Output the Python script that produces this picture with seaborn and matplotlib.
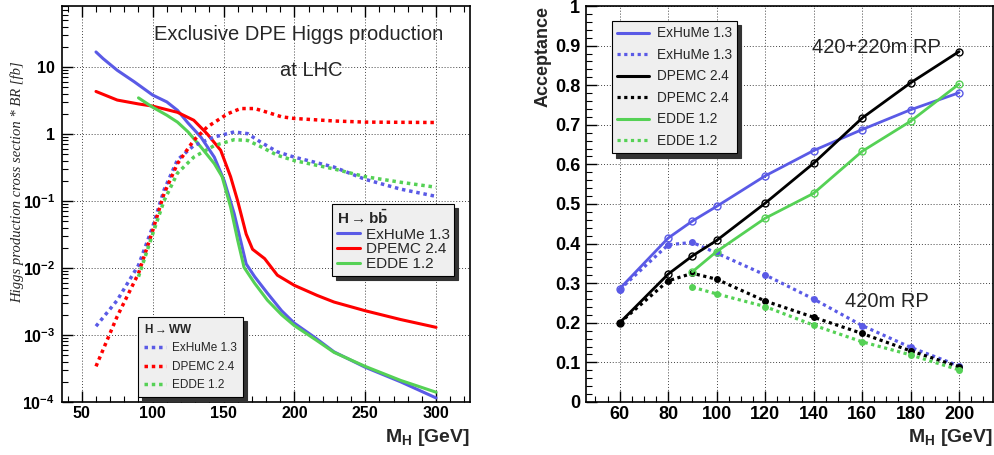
import numpy as np
import pandas as pd
import matplotlib
matplotlib.use('Agg')
import matplotlib.pyplot as plt
import seaborn as sns
from matplotlib.lines import Line2D
from matplotlib.ticker import MultipleLocator, LogLocator, NullFormatter

# Colours (ROOT-like)
BLUE = '#5a5ae6'
RED = '#ff0000'
GREEN = '#55d155'
BLACK = '#000000'

# ---- Left panel: cross section * BR [fb] vs M_H ----
exhume_bb_x = [60, 65, 75, 87, 100, 110, 117.5, 125, 134, 143.5, 150.5, 157.5, 162, 166, 172, 181, 191, 200, 215, 228, 250, 275, 300]
exhume_bb_y = [16.7, 13.3, 8.9, 6.0, 3.8, 3.0, 2.25, 1.45, 0.9, 0.45, 0.2, 0.065, 0.026, 0.0115, 0.0074, 0.0042, 0.0023, 0.0015, 0.0009, 0.00056, 0.00033, 0.0002, 0.000115]

dpemc_bb_x = [60, 75, 90, 100, 117.5, 129, 138.5, 148, 155, 160, 166, 170.5, 179, 188, 200, 216, 228, 250, 275, 300]
dpemc_bb_y = [4.3, 3.2, 2.8, 2.6, 2.1, 1.6, 1.0, 0.57, 0.23, 0.1, 0.032, 0.019, 0.0138, 0.0078, 0.0055, 0.0039, 0.0031, 0.0023, 0.0017, 0.0013]

edde_bb_x = [90, 100, 110, 117.5, 125, 134, 143.5, 149, 155, 160, 164.5, 172, 181, 191, 200, 215, 228, 250, 275, 300]
edde_bb_y = [3.45, 2.5, 1.9, 1.5, 1.07, 0.64, 0.36, 0.23, 0.081, 0.026, 0.0102, 0.0059, 0.0033, 0.002, 0.00138, 0.00085, 0.00055, 0.00034, 0.00021, 0.00014]

exhume_ww_x = [60, 75, 90, 100, 108, 117.5, 129, 143.5, 157.5, 167, 176, 188, 200, 228, 250, 275, 300]
exhume_ww_y = [0.00135, 0.0033, 0.011, 0.041, 0.145, 0.41, 0.67, 0.9, 1.07, 1.01, 0.76, 0.54, 0.45, 0.32, 0.21, 0.15, 0.117]

dpemc_ww_x = [60, 75, 90, 100, 108, 117.5, 129, 138.5, 153, 162, 172, 181, 191, 200, 228, 250, 300]
dpemc_ww_y = [0.00034, 0.0019, 0.0083, 0.036, 0.128, 0.36, 0.8, 1.27, 2.0, 2.39, 2.39, 2.1, 1.8, 1.7, 1.56, 1.5, 1.48]

edde_ww_x = [90, 100, 108, 117.5, 129, 143.5, 157.5, 167, 176, 188, 200, 228, 250, 275, 300]
edde_ww_y = [0.0074, 0.032, 0.1, 0.26, 0.45, 0.67, 0.82, 0.8, 0.65, 0.48, 0.40, 0.30, 0.23, 0.19, 0.16]

# ---- Right panel: acceptance vs M_H ----
mass = [60, 80, 90, 100, 120, 140, 160, 180, 200]
mass_edde = [90, 100, 120, 140, 160, 180, 200]
acc_exhume_420_220 = [0.286, 0.414, 0.457, 0.494, 0.571, 0.635, 0.688, 0.738, 0.781]
acc_exhume_420 = [0.284, 0.397, 0.403, 0.376, 0.321, 0.260, 0.193, 0.138, 0.091]
acc_dpemc_420_220 = [0.200, 0.323, 0.369, 0.408, 0.502, 0.603, 0.717, 0.806, 0.885]
acc_dpemc_420 = [0.200, 0.306, 0.325, 0.310, 0.255, 0.214, 0.173, 0.129, 0.089]
acc_edde_420_220 = [0.329, 0.380, 0.464, 0.527, 0.633, 0.709, 0.803]
acc_edde_420 = [0.290, 0.273, 0.241, 0.194, 0.152, 0.119, 0.081]

legend_names = ['ExHuMe 1.3', 'DPEMC 2.4', 'EDDE 1.2']

sns.set_theme(style='white')
plt.rcParams['font.family'] = ['Liberation Sans', 'DejaVu Sans']
plt.rcParams['mathtext.fontset'] = 'custom'
plt.rcParams['mathtext.rm'] = 'Liberation Sans'
plt.rcParams['mathtext.bf'] = 'Liberation Sans:bold'
plt.rcParams['mathtext.it'] = 'Liberation Sans:italic'
plt.rcParams['axes.edgecolor'] = 'black'
plt.rcParams['axes.linewidth'] = 1.2

DOT = (0, (1, 1.1))

fig = plt.figure(figsize=(9.95, 4.55), dpi=100)
axL = fig.add_axes([0.0623, 0.1165, 0.4101, 0.8703])
axR = fig.add_axes([0.5887, 0.1165, 0.4093, 0.8703])


def draw(ax, x, y, color, dotted=False, lw=2.2, **kw):
    df = pd.DataFrame({'x': x, 'y': y})
    sns.lineplot(data=df, x='x', y='y', ax=ax, color=color, lw=lw,
                 linestyle=DOT if dotted else '-', sort=False,
                 estimator=None, legend=False, **kw)


def root_ticks(ax, top=False):
    ax.tick_params(which='both', direction='in', top=top, right=False,
                   bottom=True, left=True, colors='black')
    ax.tick_params(which='major', length=8, width=1.0)
    ax.tick_params(which='minor', length=4, width=0.8)
    ax.grid(True, which='major', color='#444444', lw=0.7, ls=(0, (1, 2)))
    ax.set_axisbelow(True)


# ---------------- left panel ----------------
axL.set_yscale('log')
draw(axL, exhume_bb_x, exhume_bb_y, BLUE)
draw(axL, dpemc_bb_x, dpemc_bb_y, RED)
draw(axL, edde_bb_x, edde_bb_y, GREEN)
draw(axL, exhume_ww_x, exhume_ww_y, BLUE, dotted=True, lw=2.5)
draw(axL, dpemc_ww_x, dpemc_ww_y, RED, dotted=True, lw=2.5)
draw(axL, edde_ww_x, edde_ww_y, GREEN, dotted=True, lw=2.5)

axL.set_xlim(36, 324)
axL.set_ylim(1e-4, 81)
axL.xaxis.set_major_locator(MultipleLocator(50))
axL.xaxis.set_minor_locator(MultipleLocator(10))
ydec = [1e-4, 1e-3, 1e-2, 1e-1, 1, 10]
ylab = [r'$\mathbf{10^{-4}}$', r'$\mathbf{10^{-3}}$', r'$\mathbf{10^{-2}}$',
        r'$\mathbf{10^{-1}}$', '1', '10']
axL.set_yticks(ydec, ylab, fontsize=11.5, fontweight='bold')
axL.yaxis.set_minor_locator(LogLocator(base=10, subs=np.arange(2, 10), numticks=20))
axL.yaxis.set_minor_formatter(NullFormatter())
axL.set_xticks([50, 100, 150, 200, 250, 300],
               ['50', '100', '150', '200', '250', '300'], fontsize=11.5, fontweight='bold')
root_ticks(axL, top=True)
axL.tick_params(axis='y', pad=5)
axL.tick_params(axis='x', pad=3)

axL.set_xlabel(r'$\mathbf{M_H}$ [GeV]', fontsize=14, fontweight='bold', loc='right')
axL.xaxis.set_label_coords(1.0, -0.063)
axL.set_ylabel('Higgs production cross section * BR [fb]', fontsize=10.5,
               family='Liberation Serif', style='italic', fontweight='normal')
axL.yaxis.set_label_coords(-0.093, 0.555)

axL.text(0.581, 0.929, 'Exclusive DPE Higgs production', transform=axL.transAxes,
         ha='center', va='center', fontsize=14.5)
axL.text(0.61, 0.838, 'at LHC', transform=axL.transAxes,
         ha='center', va='center', fontsize=14.5)

shadow = {'ox': 3, 'oy': -3, 'color': '#333333', 'alpha': 1.0}
colors = [BLUE, RED, GREEN]
h_bb = [Line2D([], [], color=c, lw=2.2) for c in colors]
leg_bb = axL.legend(h_bb, legend_names, loc='upper left', bbox_to_anchor=(0.662, 0.5),
                    borderaxespad=0,
                    title=r'$\mathbf{H \rightarrow b\bar{b}}$', title_fontsize=11,
                    fontsize=11, handlelength=1.5, handletextpad=0.4, labelspacing=0.05,
                    borderpad=0.3, alignment='left', fancybox=False, framealpha=1,
                    facecolor='#efefef', edgecolor='black', shadow=shadow)
leg_bb.get_frame().set_linewidth(0.8)
axL.add_artist(leg_bb)

h_ww = [Line2D([], [], color=c, lw=2.5, ls=DOT) for c in colors]
leg_ww = axL.legend(h_ww, legend_names, loc='upper left', bbox_to_anchor=(0.186, 0.215),
                    borderaxespad=0,
                    title=r'$\mathbf{H \rightarrow WW}$', title_fontsize=8.5,
                    fontsize=8.5, handlelength=1.9, handletextpad=0.5, labelspacing=0.55,
                    borderpad=0.5, alignment='left', fancybox=False, framealpha=1,
                    facecolor='#efefef', edgecolor='black', shadow=shadow)
leg_ww.get_frame().set_linewidth(0.8)

# ---------------- right panel ----------------
mk_open = dict(marker='o', markersize=5, markerfacecolor='none', markeredgewidth=1.0)
mk_full = dict(marker='o', markersize=5, markeredgewidth=0)
draw(axR, mass, acc_exhume_420_220, BLUE, lw=2.0, markeredgecolor=BLUE, **mk_open)
draw(axR, mass, acc_exhume_420, BLUE, dotted=True, lw=2.3, **mk_full)
draw(axR, mass, acc_dpemc_420_220, BLACK, lw=2.0, markeredgecolor=BLACK, **mk_open)
draw(axR, mass, acc_dpemc_420, BLACK, dotted=True, lw=2.3, **mk_full)
draw(axR, mass_edde, acc_edde_420_220, GREEN, lw=2.0, markeredgecolor=GREEN, **mk_open)
draw(axR, mass_edde, acc_edde_420, GREEN, dotted=True, lw=2.3, **mk_full)

axR.set_xlim(46, 214)
axR.set_ylim(0, 1)
xt = [60, 80, 100, 120, 140, 160, 180, 200]
axR.set_xticks(xt, [str(v) for v in xt], fontsize=13, fontweight='bold')
yt = [0, 0.1, 0.2, 0.3, 0.4, 0.5, 0.6, 0.7, 0.8, 0.9, 1]
axR.set_yticks(yt, ['0', '0.1', '0.2', '0.3', '0.4', '0.5', '0.6', '0.7', '0.8', '0.9', '1'],
               fontsize=13, fontweight='bold')
axR.xaxis.set_minor_locator(MultipleLocator(5))
axR.yaxis.set_minor_locator(MultipleLocator(0.02))
root_ticks(axR)
axR.tick_params(axis='y', pad=4)
axR.tick_params(axis='x', pad=3)

axR.set_xlabel(r'$\mathbf{M_H}$ [GeV]', fontsize=14, fontweight='bold', loc='right')
axR.xaxis.set_label_coords(1.0, -0.063)
axR.set_ylabel('Acceptance', fontsize=13, fontweight='bold', loc='top')
axR.yaxis.set_label_coords(-0.085, 1.0)

axR.text(139.5, 0.895, '420+220m RP', ha='left', va='center', fontsize=14.5)
axR.text(153, 0.253, '420m RP', ha='left', va='center', fontsize=14.5)

h_acc = []
labels_acc = []
for name, c in zip(legend_names, [BLUE, BLACK, GREEN]):
    h_acc.append(Line2D([], [], color=c, lw=2.2))
    h_acc.append(Line2D([], [], color=c, lw=2.3, ls=DOT))
    labels_acc += [name, name]
leg_acc = axR.legend(h_acc, labels_acc, loc='upper left', bbox_to_anchor=(0.064, 0.962),
                     borderaxespad=0,
                     fontsize=9.8, handlelength=2.3, handletextpad=0.6, labelspacing=0.55,
                     borderpad=0.4, fancybox=False, framealpha=1,
                     facecolor='#efefef', edgecolor='black', shadow=shadow)
leg_acc.get_frame().set_linewidth(0.8)

fig.savefig('out.png', dpi=100)
